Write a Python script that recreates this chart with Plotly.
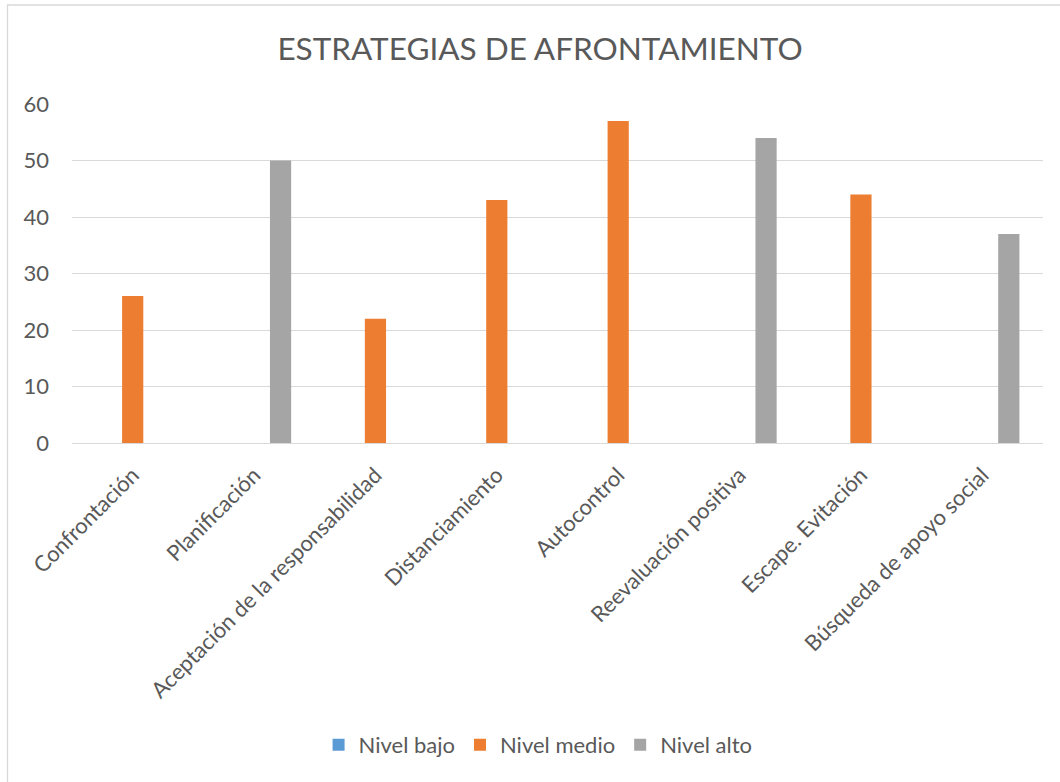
import plotly.graph_objects as go

categories = ["Confrontación", "Planificación", "Aceptación de la responsabilidad",
              "Distanciamiento", "Autocontrol", "Reevaluación positiva",
              "Escape. Evitación", "Búsqueda de apoyo social"]
nivel_bajo = [0, 0, 0, 0, 0, 0, 0, 0]
nivel_medio = [26, None, 22, 43, 57, None, 44, None]
nivel_alto = [None, 50, None, None, None, 54, None, 37]
y_ticks = [0, 10, 20, 30, 40, 50, 60]

FONT = "Lato"
TXT = "#595959"

fig = go.Figure()
fig.add_trace(go.Bar(name="Nivel bajo", x=categories, y=nivel_bajo,
                     marker=dict(color="#5B9BD5", line=dict(width=0))))
fig.add_trace(go.Bar(name="Nivel medio", x=categories, y=nivel_medio,
                     marker=dict(color="#ED7D31", line=dict(width=0))))
fig.add_trace(go.Bar(name="Nivel alto", x=categories, y=nivel_alto,
                     marker=dict(color="#A5A5A5", line=dict(width=0))))

W, H = 1060, 782
L, R, T, B = 72, 17, 104, 339
pw = W - L - R
ph = H - T - B

def px_x(x):
    return (x - L) / pw

def px_y(y):
    return (H - B - y) / ph

fig.update_layout(
    width=W, height=H,
    margin=dict(l=L, r=R, t=T, b=B, autoexpand=False),
    paper_bgcolor="white", plot_bgcolor="white",
    barmode="group", bargap=0.345, bargroupgap=0.2,
    font=dict(family=FONT, color=TXT, size=22),
    title=dict(text="ESTRATEGIAS DE AFRONTAMIENTO", x=540 / W, xanchor="center",
               y=1 - 49 / H, yanchor="middle",
               font=dict(family=FONT, size=31.5, color=TXT)),
    showlegend=True,
    legend=dict(orientation="h", x=0.48, xanchor="center", y=px_y(745), yanchor="middle",
                font=dict(family=FONT, size=22, color=TXT), traceorder="normal"),
    xaxis=dict(tickangle=-45, showgrid=False, showline=False, ticks="",
               ticklabelstandoff=14,
               tickfont=dict(family=FONT, size=22, color=TXT)),
    yaxis=dict(range=[0, 60], tickvals=y_ticks, showgrid=True, gridcolor="#D9D9D9",
               gridwidth=1.3, zeroline=True, zerolinecolor="#D9D9D9", zerolinewidth=1.3,
               showline=False, ticks="", ticklabelstandoff=22,
               tickfont=dict(family=FONT, size=22, color=TXT)),
    shapes=[dict(type="rect", xref="paper", yref="paper",
                 x0=px_x(7.5), x1=px_x(1070), y0=px_y(800), y1=px_y(5),
                 line=dict(color="#D9D9D9", width=1.3), fillcolor="rgba(0,0,0,0)",
                 layer="below")],
)

fig.write_html("out.html", config={"displayModeBar": False},
               post_script="document.body.style.margin='0';")
